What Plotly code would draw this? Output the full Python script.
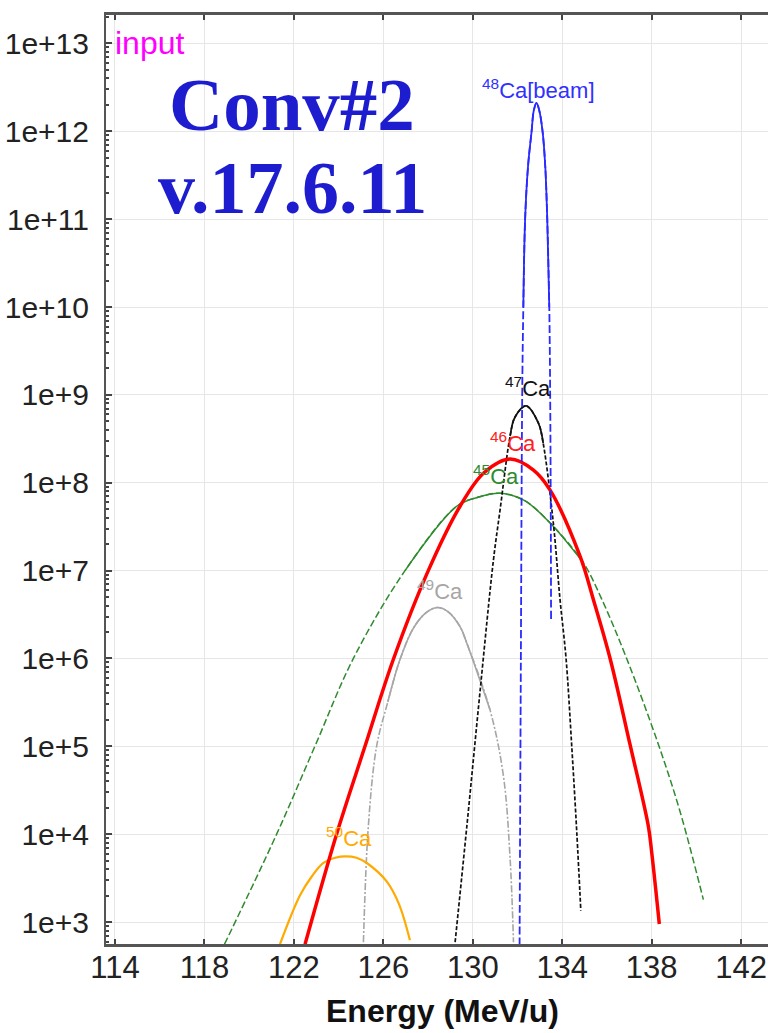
import numpy as np
import plotly.graph_objects as go

# ---------------- data ----------------
# 48Ca [beam]
ca48_E = [132.09, 132.15, 132.21, 132.26, 132.34, 132.47, 132.63, 132.73, 132.85, 132.97, 133.12, 133.24, 133.33, 133.42, 133.46, 133.49, 133.50]
ca48_y = [4.0e2, 1.0e6, 1.0e9, 1.0e10, 1.0e11, 4.0e11, 1.0e12, 1.74e12, 2.1e12, 1.74e12, 1.0e12, 4.0e11, 1.0e11, 1.0e10, 1.0e9, 3.0e7, 2.8e6]

# 47Ca
ca47_E = [129.21, 129.73, 130.32, 130.92, 131.22, 131.67, 131.89, 132.38, 132.93, 133.15, 133.60, 133.90, 134.17, 134.42, 134.65, 134.83]
ca47_y = [5.9e2, 1.2e4, 4.1e5, 1.3e7, 4.9e7, 3.4e8, 5.6e8, 7.5e8, 4.8e8, 2.8e8, 3.5e7, 4.7e6, 1.0e6, 1.05e5, 1.05e4, 1.35e3]

# 46Ca
ca46_E = [122.50, 123.91, 125.18, 126.45, 128.01, 129.43, 130.50, 131.67, 132.70, 133.45, 134.80, 135.39, 136.14, 137.03, 137.85, 138.00, 138.34]
ca46_y = [5.6e2, 1.0e4, 1.0e5, 9.8e5, 1.0e7, 5.4e7, 1.3e8, 1.86e8, 1.4e8, 8.3e7, 1.45e7, 4.7e6, 1.0e6, 1.05e5, 1.23e4, 6.2e3, 9.5e2]

# 45Ca
ca45_E = [118.90, 121.23, 122.94, 124.66, 126.97, 129.28, 130.20, 131.22, 132.30, 133.45, 134.94, 135.77, 136.88, 138.30, 139.27, 140.31]
ca45_y = [5.6e2, 1.0e4, 1.0e5, 1.0e6, 1.0e7, 5.4e7, 6.8e7, 7.6e7, 6.3e7, 3.5e7, 1.23e7, 4.7e6, 1.0e6, 1.05e5, 1.8e4, 1.8e3]

# 49Ca
ca49_E = [125.11, 125.33, 125.70, 126.20, 126.75, 127.34, 127.90, 128.41, 128.90, 129.43, 129.73, 130.77, 131.37, 131.67, 131.82]
ca49_y = [5.9e2, 1.23e4, 1.0e5, 3.2e5, 9.8e5, 2.2e6, 3.3e6, 3.8e6, 3.4e6, 2.3e6, 1.5e6, 2.6e5, 4.6e4, 5.2e3, 5.9e2]

# 50Ca
ca50_E = [121.38, 122.27, 122.80, 123.32, 123.85, 124.32, 124.80, 125.26, 126.15, 126.70, 127.19]
ca50_y = [5.6e2, 2.0e3, 3.3e3, 4.7e3, 5.4e3, 5.6e3, 5.4e3, 4.7e3, 2.9e3, 1.6e3, 6.2e2]

x_ticks = [114, 118, 122, 126, 130, 134, 138, 142]
y_ticks = [1e3, 1e4, 1e5, 1e6, 1e7, 1e8, 1e9, 1e10, 1e11, 1e12, 1e13]
y_ticktext = ["1e+3", "1e+4", "1e+5", "1e+6", "1e+7", "1e+8", "1e+9", "1e+10", "1e+11", "1e+12", "1e+13"]

# ---------------- styling ----------------
series = [
    dict(E=ca45_E, y=ca45_y, color="#2e8b2e", width=1.5, dash="7px,3px", thr=1.0e7,
         mass="45", lcolor="#2e8b2e", xs=-29, ys=18, text="Ca"),
    dict(E=ca49_E, y=ca49_y, color="#a6a6a6", width=1.6, dash="7px,2px,2px,2px", thr=1.5e5,
         mass="49", lcolor="#a6a6a6", xs=-22, ys=18, text="Ca"),
    dict(E=ca50_E, y=ca50_y, color="#ffaa00", width=2.2, dash="solid", thr=0,
         mass="50", lcolor="#ffaa00", xs=-22, ys=19, text="Ca"),
    dict(E=ca47_E, y=ca47_y, color="#111111", width=1.7, dash="4px,2px", thr=2.5e8,
         mass="47", lcolor="#111111", xs=-23, ys=19, text="Ca"),
    dict(E=ca46_E, y=ca46_y, color="#ff0000", width=3.5, dash="solid", thr=0,
         mass="46", lcolor="#ff2020", xs=-22, ys=17, text="Ca"),
    dict(E=ca48_E, y=ca48_y, color="#2a2aff", width=1.8, dash="8px,3px", thr=1.0e10,
         mass="48", lcolor="#3030ff", xs=-57, ys=14, text="Ca[beam]"),
]

fig = go.Figure()
annotations = []
for s in series:
    E = np.array(s["E"])
    y = np.array(s["y"])
    fig.add_trace(go.Scatter(x=E, y=y, mode="lines",
                             line=dict(color=s["color"], width=s["width"], dash=s["dash"],
                                       shape="spline", smoothing=1.0),
                             showlegend=False, hoverinfo="skip"))
    if s["dash"] != "solid":
        idx = np.where(y >= s["thr"])[0]
        lo, hi = idx[0], idx[-1] + 1
        fig.add_trace(go.Scatter(x=E[lo:hi], y=y[lo:hi], mode="lines",
                                 line=dict(color=s["color"], width=s["width"],
                                           shape="spline", smoothing=1.0),
                                 showlegend=False, hoverinfo="skip"))
    k = int(np.argmax(y))
    annotations.append(dict(
        x=float(E[k]), y=float(np.log10(y[k])), xref="x", yref="y",
        text=f"<sup>{s['mass']}</sup>{s['text']}", showarrow=False,
        xanchor="left", yanchor="middle", xshift=s["xs"], yshift=s["ys"],
        font=dict(family="Liberation Sans Narrow, Liberation Sans, Arial", size=22, color=s["lcolor"])))

annotations += [
    dict(x=0.0106, y=0.970, xref="paper", yref="paper", text="input", showarrow=False,
         xanchor="left", yanchor="middle",
         font=dict(family="Liberation Sans Narrow, Liberation Sans, Arial", size=32, color="#ff00ff")),
    dict(x=0.281, y=0.904, xref="paper", yref="paper", text="<b>Conv#2</b>", showarrow=False,
         xanchor="center", yanchor="middle",
         font=dict(family="Liberation Serif, Times New Roman, serif", size=75, color="#1d1dcf")),
    dict(x=0.281, y=0.814, xref="paper", yref="paper", text="<b>v.17.6.11</b>", showarrow=False,
         xanchor="center", yanchor="middle",
         font=dict(family="Liberation Serif, Times New Roman, serif", size=74, color="#1d1dcf")),
    dict(x=0.509, y=-0.0721, xref="paper", yref="paper", text="<b>Energy (MeV/u)</b>", showarrow=False,
         xanchor="center", yanchor="middle",
         font=dict(family="Liberation Sans, Arial", size=32, color="#111111")),
]

xtickfont = dict(family="Liberation Sans Narrow, Liberation Sans, Arial", size=31, color="#222222")
ytickfont = dict(family="Liberation Sans Narrow, Liberation Sans, Arial", size=30, color="#222222")

fig.update_layout(
    width=768, height=1033,
    margin=dict(l=106, r=0, t=15, b=89),
    paper_bgcolor="white", plot_bgcolor="white",
    annotations=annotations,
    xaxis=dict(range=[113.6, 143.2], tickmode="array", tickvals=x_ticks,
               ticks="inside", ticklen=5, tickwidth=1.5, tickcolor="#444444",
               showline=True, linecolor="#555555", linewidth=2.5, mirror="ticks",
               showgrid=True, gridcolor="#e6e6e6", gridwidth=1, zeroline=False,
               tickfont=xtickfont, ticklabelstandoff=-6),
    yaxis=dict(type="log", range=[2.75, 13.324], tickmode="array", tickvals=y_ticks,
               ticktext=y_ticktext, ticks="inside", ticklen=6, tickwidth=1.5, tickcolor="#444444",
               minor=dict(ticks="inside", ticklen=3, tickcolor="#444444", dtick="D1", showgrid=False),
               showline=True, linecolor="#555555", linewidth=2, mirror=False,
               showgrid=True, gridcolor="#e6e6e6", gridwidth=1, zeroline=False,
               tickfont=ytickfont, ticklabelstandoff=9),
)

fig.write_html("out.html")
